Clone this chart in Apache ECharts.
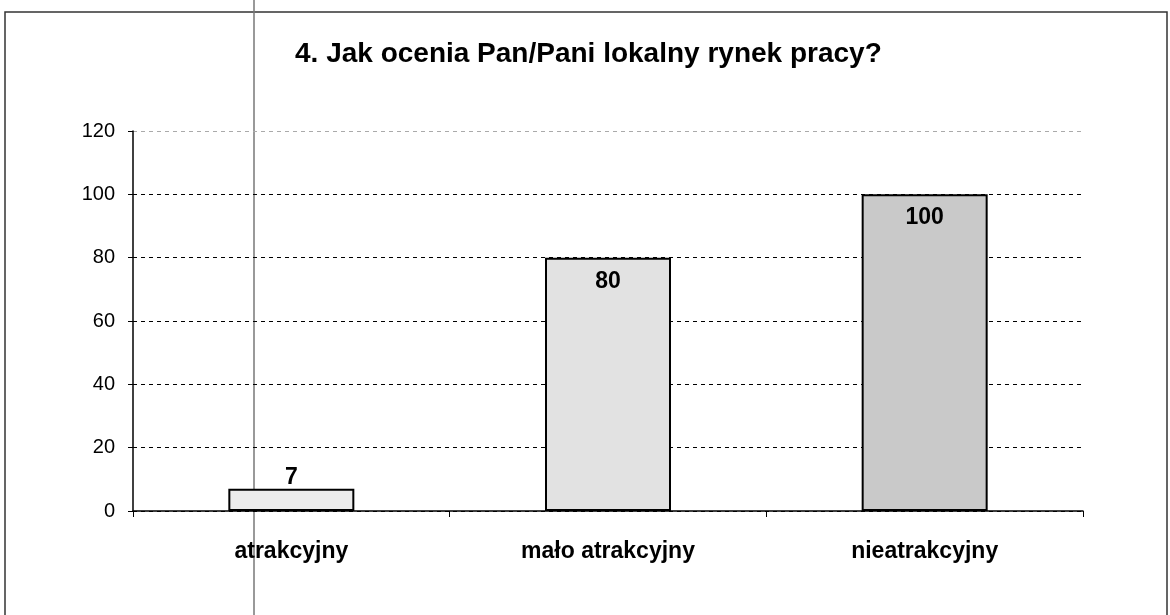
<!DOCTYPE html>
<html>
<head>
<meta charset="utf-8">
<script src="https://cdn.jsdelivr.net/npm/echarts@6/dist/echarts.min.js"></script>
<style>
  html, body { margin: 0; padding: 0; background: #fff; }
  #chart { width: 1170px; height: 615px; }
</style>
</head>
<body>
<div id="chart"></div>
<script>
// dane z wykresu
var categories = ['atrakcyjny', 'mało atrakcyjny', 'nieatrakcyjny'];
var values = [7, 80, 100];
var barColors = ['#ececec', '#e2e2e2', '#c9c9c9'];
var labelPos = ['top', 'insideTop', 'insideTop'];

var chart = echarts.init(document.getElementById('chart'));

var option = {
  backgroundColor: '#fff',
  animation: false,
  title: {
    text: '4. Jak ocenia Pan/Pani lokalny rynek pracy?',
    left: 290,
    top: 35,
    textStyle: {
      fontFamily: 'Liberation Sans, Arial',
      fontWeight: 'bold',
      fontSize: 28,
      color: '#000'
    }
  },
  grid: { left: 133, right: 87, top: 131, bottom: 104 },
  xAxis: {
    type: 'category',
    data: categories,
    axisLine: { lineStyle: { color: '#000', width: 1.5 } },
    axisTick: { show: true, length: 6, lineStyle: { color: '#000' } },
    axisLabel: {
      margin: 29,
      color: '#000',
      fontFamily: 'Liberation Sans, Arial',
      fontWeight: 'bold',
      fontSize: 23
    }
  },
  yAxis: {
    type: 'value',
    min: 0,
    max: 120,
    interval: 20,
    axisLine: { show: true, lineStyle: { color: '#000', width: 1.5 } },
    axisTick: { show: true, length: 5, lineStyle: { color: '#000' } },
    axisLabel: {
      margin: 18,
      color: '#000',
      fontFamily: 'Liberation Sans, Arial',
      fontSize: 20
    },
    splitLine: {
      show: true,
      lineStyle: {
        color: ['#000', '#000', '#000', '#000', '#000', '#000', '#aaa'],
        type: [4, 4],
        width: 1
      }
    }
  },
  series: [{
    type: 'bar',
    barWidth: 126,
    data: values.map(function (v, i) {
      return {
        value: v,
        itemStyle: { color: barColors[i] },
        label: { position: labelPos[i], distance: i === 0 ? 0 : 12 }
      };
    }),
    itemStyle: { borderColor: '#000', borderWidth: 2 },
    label: {
      show: true,
      color: '#000',
      fontFamily: 'Liberation Sans, Arial',
      fontWeight: 'bold',
      fontSize: 23
    }
  }],
  graphic: [
    {
      type: 'rect',
      shape: { x: 5, y: 12, width: 1162, height: 620 },
      style: { fill: 'none', stroke: '#333', lineWidth: 1.5 },
      silent: true
    },
    {
      type: 'line',
      shape: { x1: 254, y1: 0, x2: 254, y2: 615 },
      style: { stroke: '#777', lineWidth: 1.5 },
      silent: true
    }
  ]
};

chart.setOption(option);
window.addEventListener('resize', function () {
  chart.resize();
});
</script>
</body>
</html>
